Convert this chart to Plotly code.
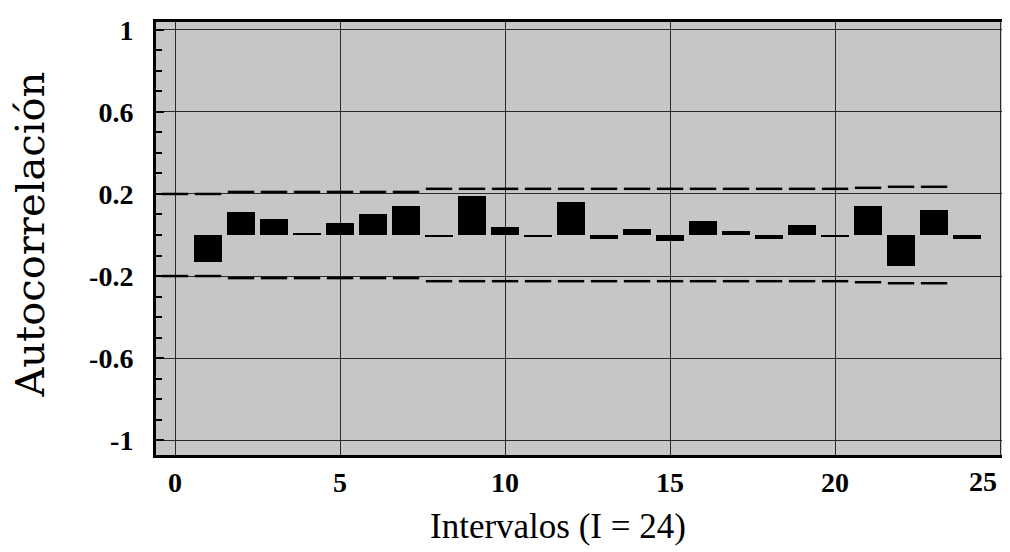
import plotly.graph_objects as go

# Data
lags = list(range(1, 25))
acf = [-0.13, 0.11, 0.08, 0.01, 0.06, 0.10, 0.14, -0.01, 0.19, 0.04, -0.01, 0.16,
       -0.02, 0.03, -0.03, 0.07, 0.02, -0.02, 0.05, -0.01, 0.14, -0.15, 0.12, -0.02]
band_lags = list(range(0, 24))
band = [0.20, 0.20, 0.21, 0.21, 0.21, 0.21, 0.21, 0.21, 0.225, 0.225, 0.225, 0.225,
        0.225, 0.225, 0.225, 0.225, 0.225, 0.225, 0.225, 0.225, 0.225, 0.23, 0.235, 0.235]
x_ticks = [0, 5, 10, 15, 20, 25]
y_ticks = [1, 0.6, 0.2, -0.2, -0.6, -1]
y_tick_text = ["1", "0.6", "0.2", "-0.2", "-0.6", "-1"]

TICKFONT = "Liberation Serif"
W, H = 1010, 552
OFF = 8  # page offset of the figure (body margin)
ML, MR, MT, MB = 148, 13, 7, 105
PW, PH = W - ML - MR, H - MT - MB


def px_to_paper(px, py):
    return (px - OFF - ML) / PW, (H - MB - (py - OFF)) / PH


fig = go.Figure()
fig.add_trace(go.Bar(x=lags, y=acf, width=0.85, marker=dict(color="black", line=dict(width=0)),
                     showlegend=False))

# confidence band segments, one dash per lag
half = 0.4
for sign in (1, -1):
    xs, ys = [], []
    for k, b in zip(band_lags, band):
        xs += [k - half, k + half, None]
        ys += [sign * b, sign * b, None]
    fig.add_trace(go.Scatter(x=xs, y=ys, mode="lines", line=dict(color="black", width=2.5),
                             showlegend=False, hoverinfo="skip"))

tick_font = dict(family=TICKFONT, size=28, color="black", weight="bold")

ax, ay = px_to_paper(30, 231)
bx, by = px_to_paper(558, 528)
cx, cy = px_to_paper(999, 482)

fig.update_layout(
    width=W, height=H,
    margin=dict(l=ML, r=MR, t=MT, b=MB),
    paper_bgcolor="white",
    plot_bgcolor="#c6c6c6",
    bargap=0,
    xaxis=dict(range=[-0.576, 25.15], tickvals=x_ticks,
               ticktext=[str(v) if v != 25 else "" for v in x_ticks],
               showgrid=True, gridcolor="#2a2a2a", gridwidth=1, zeroline=False,
               showline=True, linecolor="black", linewidth=3, mirror=True,
               ticks="", ticklabelstandoff=0, tickfont=tick_font),
    yaxis=dict(range=[-1.072, 1.038], tickvals=y_ticks, ticktext=y_tick_text,
               showgrid=True, gridcolor="#2a2a2a", gridwidth=1, zeroline=False,
               showline=True, linecolor="black", linewidth=3, mirror=True,
               ticks="inside", ticklen=8, tickwidth=2, tickcolor="black",
               minor=dict(ticks="inside", dtick=0.1, tick0=0, ticklen=6, tickwidth=2,
                          tickcolor="black", showgrid=False),
               ticklabelstandoff=14, tickfont=tick_font),
    annotations=[
        dict(text="Autocorrelación", x=ax, y=ay, xref="paper", yref="paper",
             xanchor="center", yanchor="middle",
             showarrow=False, textangle=-90,
             font=dict(family="DejaVu Serif", size=40, color="black")),
        dict(text="Intervalos (I = 24)", x=bx, y=by, xref="paper", yref="paper",
             xanchor="center", yanchor="middle",
             showarrow=False, font=dict(family="Liberation Serif", size=35, color="black")),
        dict(text="25", x=cx, y=cy, xref="paper", yref="paper", xanchor="right",
             yanchor="middle", showarrow=False, font=tick_font),
    ],
)

fig.write_html("out.html")
